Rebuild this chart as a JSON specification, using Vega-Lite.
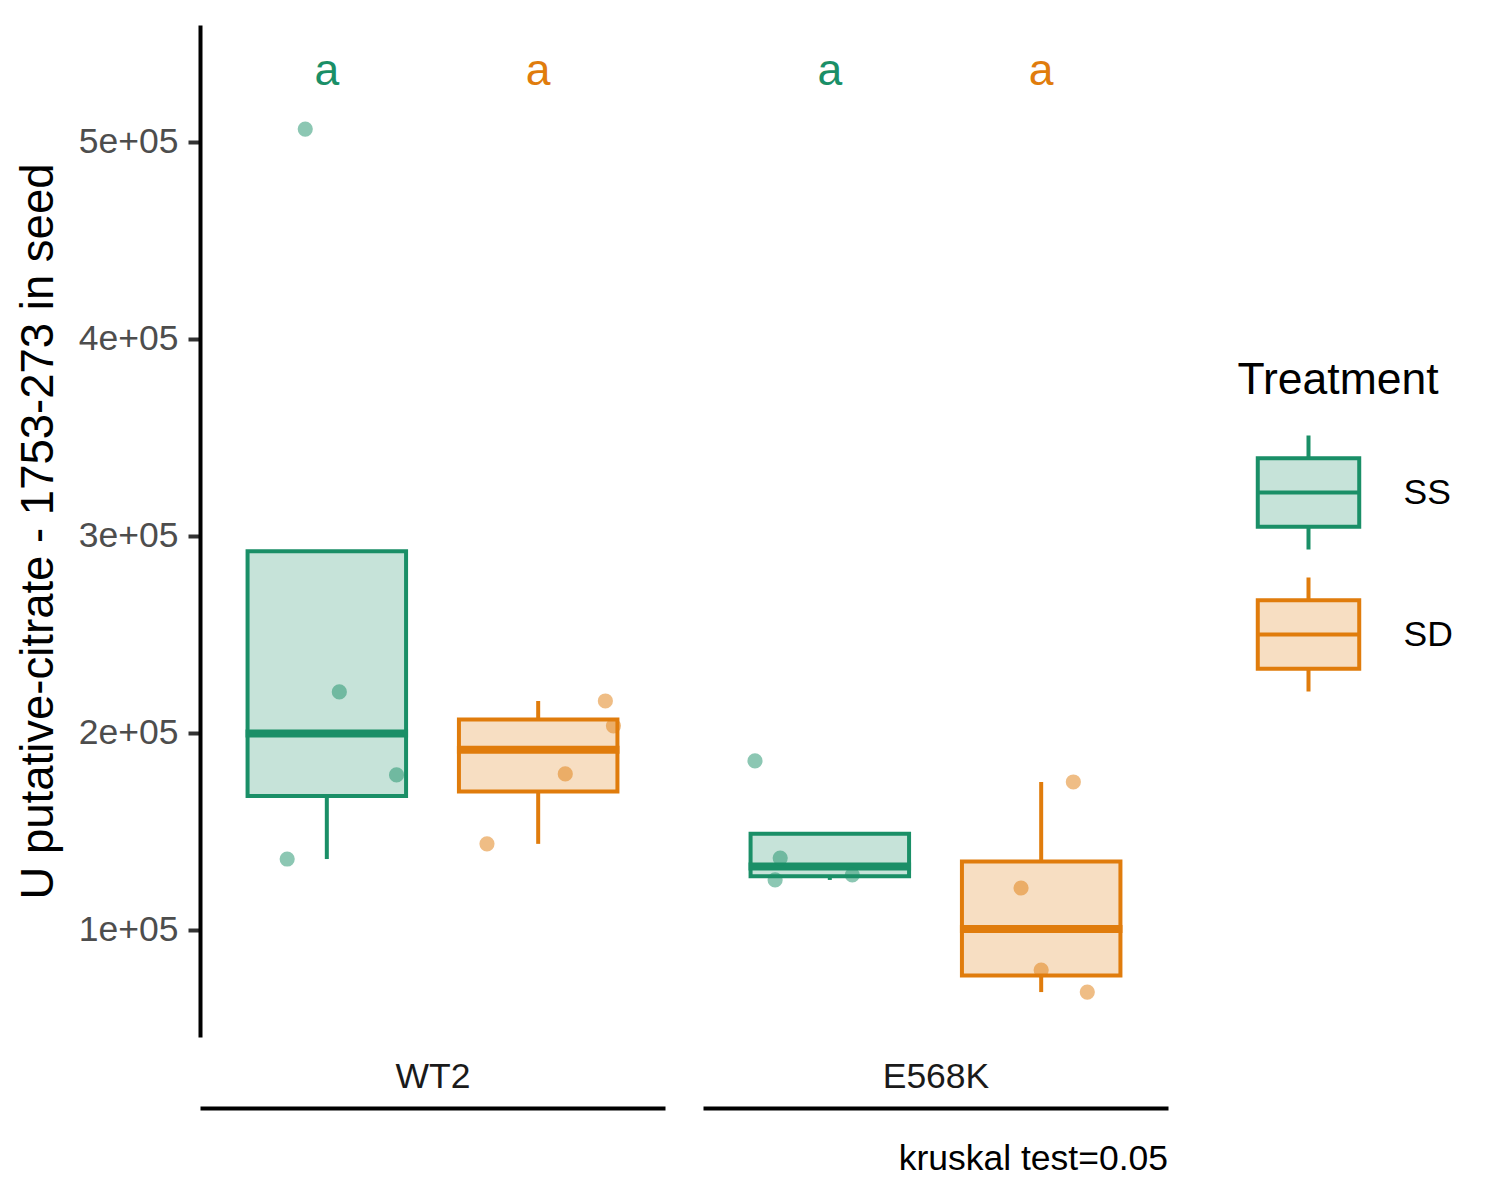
{
  "$schema": "https://vega.github.io/schema/vega-lite/v6.json",
  "padding": {"left": 15, "top": 25, "right": 5, "bottom": 5},
  "config": {
    "font": "Liberation Sans",
    "view": {"stroke": null},
    "axis": {"grid": false}
  },
  "datasets": {
    "obs": [
      {"Genotype": "WT2", "Treatment": "SS", "value": 506400, "jitter": -0.136},
      {"Genotype": "WT2", "Treatment": "SS", "value": 220800, "jitter": 0.079},
      {"Genotype": "WT2", "Treatment": "SS", "value": 178700, "jitter": 0.44},
      {"Genotype": "WT2", "Treatment": "SS", "value": 136000, "jitter": -0.25},
      {"Genotype": "WT2", "Treatment": "SD", "value": 216200, "jitter": 0.424},
      {"Genotype": "WT2", "Treatment": "SD", "value": 203600, "jitter": 0.475},
      {"Genotype": "WT2", "Treatment": "SD", "value": 179200, "jitter": 0.171},
      {"Genotype": "WT2", "Treatment": "SD", "value": 143700, "jitter": -0.323},
      {"Genotype": "E568K", "Treatment": "SS", "value": 185800, "jitter": -0.472},
      {"Genotype": "E568K", "Treatment": "SS", "value": 136500, "jitter": -0.313},
      {"Genotype": "E568K", "Treatment": "SS", "value": 125400, "jitter": -0.345},
      {"Genotype": "E568K", "Treatment": "SS", "value": 127900, "jitter": 0.142},
      {"Genotype": "E568K", "Treatment": "SD", "value": 175100, "jitter": 0.203},
      {"Genotype": "E568K", "Treatment": "SD", "value": 121300, "jitter": -0.127},
      {"Genotype": "E568K", "Treatment": "SD", "value": 79700, "jitter": 0.0},
      {"Genotype": "E568K", "Treatment": "SD", "value": 68500, "jitter": 0.291}
    ],
    "letters": [
      {"Genotype": "WT2", "Treatment": "SS", "letter": "a"},
      {"Genotype": "WT2", "Treatment": "SD", "letter": "a"},
      {"Genotype": "E568K", "Treatment": "SS", "letter": "a"},
      {"Genotype": "E568K", "Treatment": "SD", "letter": "a"}
    ]
  },
  "spacing": 38,
  "resolve": {
    "scale": {"x": "independent", "y": "shared", "fill": "shared", "stroke": "shared", "color": "shared", "xOffset": "independent"},
    "legend": {"fill": "shared", "stroke": "shared"}
  },
  "hconcat": [
    {
      "width": 465,
      "height": 1012,
      "encoding": {
        "x": {
          "field": "Treatment", "type": "nominal", "sort": ["SS", "SD"],
          "scale": {"domain": ["SS", "SD"], "paddingInner": 0.25, "paddingOuter": 0.225},
          "axis": {"title": "WT2", "labels": false, "ticks": false, "domain": true, "domainColor": "black", "domainWidth": 4, "offset": 71, "titleY": -21, "titleBaseline": "alphabetic", "titleFontSize": 35.5, "titleFontWeight": "normal", "titleColor": "#1a1a1a"}
        }
      },
      "layer": [
        {
          "data": {"name": "obs"},
          "transform": [{"filter": "datum.Genotype === 'WT2'"}],
          "mark": {"type": "boxplot", "extent": 1.5, "size": 158.5, "outliers": false,
                   "box": {"strokeWidth": 4},
                   "median": {"thickness": 4, "strokeWidth": 4, "opacity": 1},
                   "rule": {"strokeWidth": 4}},
          "encoding": {
            "y": {
              "field": "value", "type": "quantitative",
              "scale": {"domain": [45700, 559200], "nice": false, "zero": false},
              "axis": {
                "title": "U putative-citrate - 1753-273 in seed",
                "values": [100000, 200000, 300000, 400000, 500000],
                "labelExpr": "replace(format(datum.value, '.0e'), '+', '+0')",
                "labelFontSize": 35.5, "labelColor": "#4d4d4d", "labelPadding": 10,
                "tickSize": 12, "tickWidth": 4, "tickColor": "#333333",
                "domainColor": "black", "domainWidth": 4,
                "titleFontSize": 45.5, "titleFontWeight": "normal", "titleColor": "black",
                "titleX": -148, "titleY": 506, "titleBaseline": "alphabetic", "titleLimit": 1100
              }
            },
            "fill": {"field": "Treatment", "type": "nominal", "scale": {"domain": ["SS", "SD"], "range": ["#c6e3d9", "#f7dec2"]},
              "legend": {"title": "Treatment", "orient": "none", "legendX": 1037.5, "legendY": 334, "padding": 0, "titleFontSize": 44.5, "titleFontWeight": "normal", "titleColor": "black", "titlePadding": 30, "titleLimit": 400, "labelFontSize": 35.5, "labelColor": "black", "labelOffset": 36, "labelLimit": 200, "symbolType": "M0,-1V-0.6M-0.89,-0.6H0.89V0.6H-0.89ZM-0.89,0H0.89M0,0.6V1", "symbolSize": 12996, "symbolStrokeWidth": 4, "symbolOffset": 12, "rowPadding": 12}},
            "stroke": {"field": "Treatment", "type": "nominal", "scale": {"domain": ["SS", "SD"], "range": ["#1a8f67", "#e07c0c"]},
              "legend": {"title": "Treatment", "orient": "none", "legendX": 1037.5, "legendY": 334, "padding": 0, "titleFontSize": 44.5, "titleFontWeight": "normal", "titleColor": "black", "titlePadding": 30, "titleLimit": 400, "labelFontSize": 35.5, "labelColor": "black", "labelOffset": 36, "labelLimit": 200, "symbolType": "M0,-1V-0.6M-0.89,-0.6H0.89V0.6H-0.89ZM-0.89,0H0.89M0,0.6V1", "symbolSize": 12996, "symbolStrokeWidth": 4, "symbolOffset": 12, "rowPadding": 12}}
          }
        },
        {
          "data": {"name": "obs"},
          "transform": [{"filter": "datum.Genotype === 'WT2'"}],
          "mark": {"type": "circle", "size": 230, "opacity": 0.5},
          "encoding": {
            "y": {"field": "value", "type": "quantitative", "scale": {"domain": [45700, 559200], "nice": false, "zero": false}},
            "xOffset": {"field": "jitter", "type": "quantitative", "scale": {"domain": [-0.5, 0.5], "range": [0, 158.5]}},
            "color": {"field": "Treatment", "type": "nominal", "scale": {"domain": ["SS", "SD"], "range": ["#1a8f67", "#e07c0c"]}, "legend": null}
          }
        },
        {
          "data": {"name": "letters"},
          "transform": [{"filter": "datum.Genotype === 'WT2'"}],
          "mark": {"type": "text", "fontSize": 44.5, "baseline": "alphabetic", "align": "center"},
          "encoding": {
            "y": {"datum": 528800, "type": "quantitative"},
            "text": {"field": "letter"},
            "color": {"field": "Treatment", "type": "nominal", "scale": {"domain": ["SS", "SD"], "range": ["#1a8f67", "#e07c0c"]}, "legend": null}
          }
        }
      ]
    },
    {
      "width": 465,
      "height": 1012,
      "title": {"text": "kruskal test=0.05", "orient": "bottom", "anchor": "end", "frame": "group", "fontSize": 35.5, "fontWeight": "normal", "color": "black", "baseline": "alphabetic", "offset": 62},
      "encoding": {
        "x": {
          "field": "Treatment", "type": "nominal", "sort": ["SS", "SD"],
          "scale": {"domain": ["SS", "SD"], "paddingInner": 0.25, "paddingOuter": 0.225},
          "axis": {"title": "E568K", "labels": false, "ticks": false, "domain": true, "domainColor": "black", "domainWidth": 4, "offset": 71, "titleY": -21, "titleBaseline": "alphabetic", "titleFontSize": 35.5, "titleFontWeight": "normal", "titleColor": "#1a1a1a"}
        }
      },
      "layer": [
        {
          "data": {"name": "obs"},
          "transform": [{"filter": "datum.Genotype === 'E568K'"}],
          "mark": {"type": "boxplot", "extent": 1.5, "size": 158.5, "outliers": false,
                   "box": {"strokeWidth": 4},
                   "median": {"thickness": 4, "strokeWidth": 4, "opacity": 1},
                   "rule": {"strokeWidth": 4}},
          "encoding": {
            "y": {"field": "value", "type": "quantitative", "scale": {"domain": [45700, 559200], "nice": false, "zero": false}, "axis": null},
            "fill": {"field": "Treatment", "type": "nominal", "scale": {"domain": ["SS", "SD"], "range": ["#c6e3d9", "#f7dec2"]},
              "legend": {"title": "Treatment", "orient": "none", "legendX": 1037.5, "legendY": 334, "padding": 0, "titleFontSize": 44.5, "titleFontWeight": "normal", "titleColor": "black", "titlePadding": 30, "titleLimit": 400, "labelFontSize": 35.5, "labelColor": "black", "labelOffset": 36, "labelLimit": 200, "symbolType": "M0,-1V-0.6M-0.89,-0.6H0.89V0.6H-0.89ZM-0.89,0H0.89M0,0.6V1", "symbolSize": 12996, "symbolStrokeWidth": 4, "symbolOffset": 12, "rowPadding": 12}},
            "stroke": {"field": "Treatment", "type": "nominal", "scale": {"domain": ["SS", "SD"], "range": ["#1a8f67", "#e07c0c"]},
              "legend": {"title": "Treatment", "orient": "none", "legendX": 1037.5, "legendY": 334, "padding": 0, "titleFontSize": 44.5, "titleFontWeight": "normal", "titleColor": "black", "titlePadding": 30, "titleLimit": 400, "labelFontSize": 35.5, "labelColor": "black", "labelOffset": 36, "labelLimit": 200, "symbolType": "M0,-1V-0.6M-0.89,-0.6H0.89V0.6H-0.89ZM-0.89,0H0.89M0,0.6V1", "symbolSize": 12996, "symbolStrokeWidth": 4, "symbolOffset": 12, "rowPadding": 12}}
          }
        },
        {
          "data": {"name": "obs"},
          "transform": [{"filter": "datum.Genotype === 'E568K'"}],
          "mark": {"type": "circle", "size": 230, "opacity": 0.5},
          "encoding": {
            "y": {"field": "value", "type": "quantitative", "scale": {"domain": [45700, 559200], "nice": false, "zero": false}, "axis": null},
            "xOffset": {"field": "jitter", "type": "quantitative", "scale": {"domain": [-0.5, 0.5], "range": [0, 158.5]}},
            "color": {"field": "Treatment", "type": "nominal", "scale": {"domain": ["SS", "SD"], "range": ["#1a8f67", "#e07c0c"]}, "legend": null}
          }
        },
        {
          "data": {"name": "letters"},
          "transform": [{"filter": "datum.Genotype === 'E568K'"}],
          "mark": {"type": "text", "fontSize": 44.5, "baseline": "alphabetic", "align": "center"},
          "encoding": {
            "y": {"datum": 528800, "type": "quantitative", "axis": null},
            "text": {"field": "letter"},
            "color": {"field": "Treatment", "type": "nominal", "scale": {"domain": ["SS", "SD"], "range": ["#1a8f67", "#e07c0c"]}, "legend": null}
          }
        }
      ]
    }
  ]
}
